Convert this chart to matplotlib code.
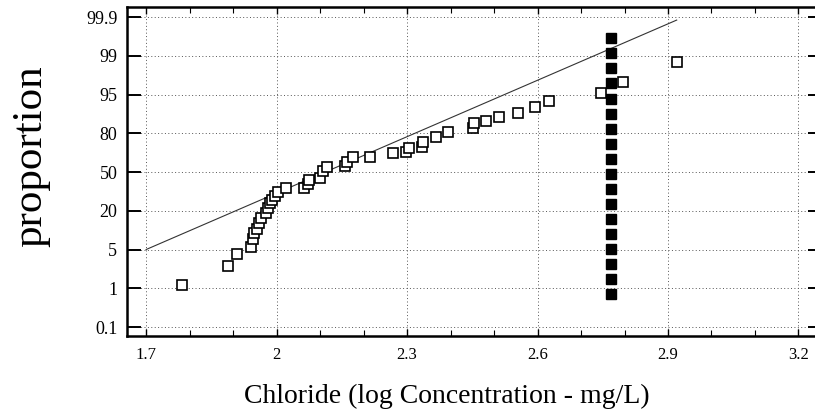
import numpy as np
import matplotlib
matplotlib.use("Agg")
import matplotlib.pyplot as plt
from matplotlib.ticker import FixedLocator, MultipleLocator

plt.rcParams['font.family'] = ['Liberation Serif', 'DejaVu Serif']

# probability axis labels (percent)
prob_ticks = [0.1, 1, 5, 20, 50, 80, 95, 99, 99.9]
prob_labels = ["0.1", "1", "5", "20", "50", "80", "95", "99", "99.9"]
x_ticks = [1.7, 2.0, 2.3, 2.6, 2.9, 3.2]
x_labels = ["1.7", "2", "2.3", "2.6", "2.9", "3.2"]

# observed samples (open squares)
obs_x = [1.783, 1.889, 1.909, 1.941, 1.946, 1.948, 1.955, 1.960, 1.964, 1.976,
         1.980, 1.985, 1.990, 1.997, 2.003, 2.022, 2.063, 2.072, 2.075, 2.100,
         2.107, 2.116, 2.157, 2.162, 2.176, 2.215, 2.268, 2.298, 2.305, 2.335,
         2.337, 2.367, 2.394, 2.452, 2.454, 2.482, 2.512, 2.555, 2.594, 2.626,
         2.746, 2.797, 2.921]
obs_p = [1.34, 3.30, 4.54, 5.97, 9.06, 11.4, 12.9, 15.3, 17.2, 19.1,
         22.1, 26.0, 28.3, 31.4, 34.5, 37.6, 37.6, 40.7, 43.8, 45.4,
         50.8, 53.9, 54.6, 57.7, 61.6, 61.6, 64.7, 65.5, 68.6, 69.4,
         73.2, 77.1, 80.5, 82.0, 84.0, 84.7, 86.3, 87.8, 90.2, 92.5,
         95.2, 96.3, 98.4]

# censored / detection-limit values (filled squares)
cens_x = [2.77] * 18
cens_p = [99.41, 99.06, 97.7, 96.2, 93.3, 87.5, 81.6, 71.7, 60.1,
          48.4, 36.8, 25.2, 16.8, 11.0, 5.2, 3.5, 1.96, 0.87]

# fitted line
fit_x = [1.7, 2.92]
fit_p = [5.0, 99.83]

anchor_p = [0.0] + prob_ticks + [100.0]
anchor_i = list(range(-1, len(prob_ticks) + 1))


def fwd(p):
    return np.interp(p, anchor_p, anchor_i)


def inv(i):
    return np.interp(i, anchor_i, anchor_p)


fig = plt.figure(figsize=(8.15, 4.16), dpi=100)
ax = fig.add_axes([0.1558, 0.1923, 0.8442, 0.7909])
ax.set_yscale('function', functions=(fwd, inv))
ax.set_xlim(1.656, 3.238)
ax.set_ylim(0.0768, 99.926)

ax.plot(fit_x, fit_p, color='#333333', lw=0.8, zorder=2)
ax.plot(cens_x, cens_p, 's', ms=7.2, mfc='black', mec='black', zorder=3)
ax.plot(obs_x, obs_p, 's', ms=6.8, mfc='white', mec='black', mew=1.2, zorder=4)

ax.yaxis.set_major_locator(FixedLocator(prob_ticks))
ax.set_yticklabels(prob_labels)
ax.yaxis.set_minor_locator(FixedLocator([]))
ax.xaxis.set_major_locator(FixedLocator(x_ticks))
ax.set_xticklabels(x_labels)
ax.xaxis.set_minor_locator(MultipleLocator(0.1))

ax.grid(True, which='major', ls=(0, (1, 2.5)), color='#555555', lw=0.7)

ax.tick_params(axis='y', direction='in', length=10, width=1.4, pad=7,
               labelsize=13, left=True, right=False)
ax.tick_params(axis='x', which='major', direction='in', length=5, width=1.0,
               pad=8, labelsize=12, top=True, bottom=True)
ax.tick_params(axis='x', which='minor', direction='in', length=4, width=0.8,
               top=True, bottom=True)

for s in ['left', 'bottom', 'top']:
    ax.spines[s].set_linewidth(1.8)
ax.spines['right'].set_visible(False)

ax2 = ax.twinx()
ax2.set_yscale('function', functions=(fwd, inv))
ax2.set_ylim(ax.get_ylim())
ax2.yaxis.set_major_locator(FixedLocator(prob_ticks))
ax2.yaxis.set_minor_locator(FixedLocator([]))
ax2.tick_params(axis='y', direction='in', length=5, width=1.4, labelright=False)
for s in ax2.spines.values():
    s.set_visible(False)

ax.set_xlabel("Chloride (log Concentration - mg/L)", fontsize=20, labelpad=15, x=0.465)
ax.set_ylabel("proportion", fontsize=31, labelpad=26, y=0.547)

fig.savefig("out.png", dpi=100)
